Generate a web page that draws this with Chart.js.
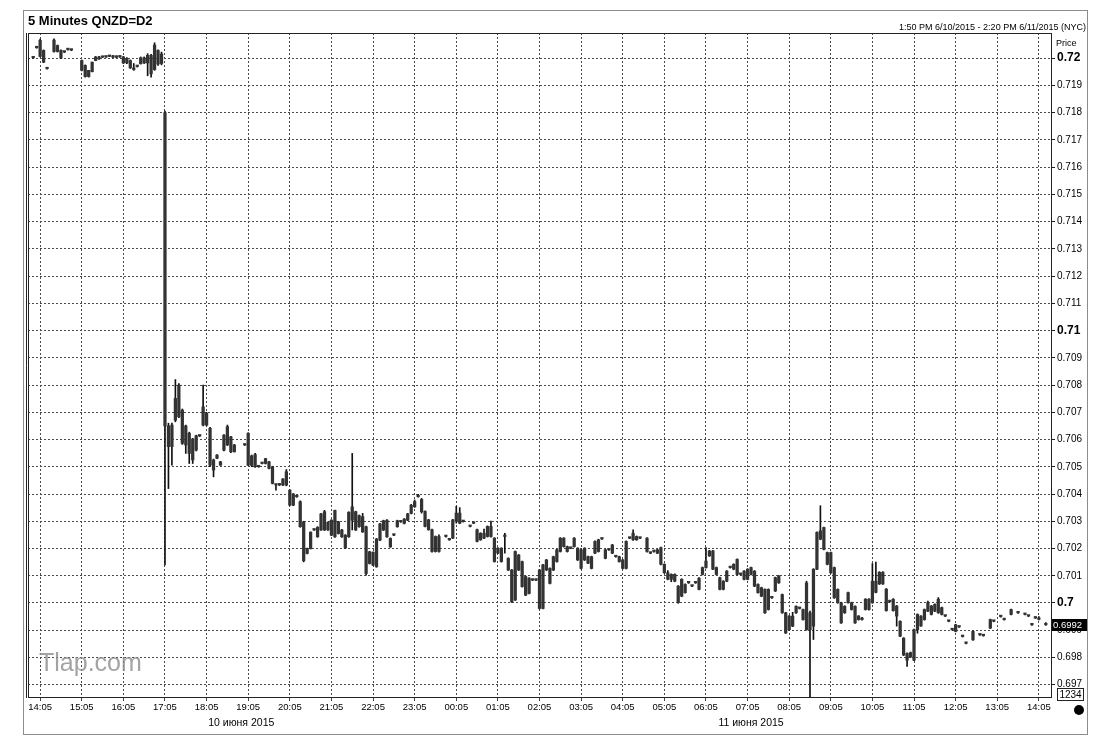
<!DOCTYPE html>
<html>
<head>
<meta charset="utf-8">
<title>5 Minutes QNZD=D2</title>
<script src="https://cdn.jsdelivr.net/npm/chart.js@4.4.1/dist/chart.umd.min.js"></script>
<style>
  html, body { margin: 0; padding: 0; background: #fff; }
</style>
</head>
<body>
<canvas id="myChart" width="1118" height="750"></canvas>
<script>
// 5-minute bars, 13:50 (10 June) .. 14:20 (11 June), 295 slots, null = no bar
const opens = [
  null, 0.72001, 0.72038, 0.72006, 0.72028, 0.71961, null, 0.72024, 0.72046, 0.72028, 0.72022, 0.72031,
  0.72029, null, null, 0.71991, 0.71973, 0.71932, 0.7195, 0.71991, 0.72004, 0.72003, 0.72004, 0.72006,
  0.72008, 0.72003, 0.72007, 0.72004, 0.71982, 0.71991, 0.71964, 0.71969, 0.71979, 0.72001, 0.71982, 0.7201,
  0.71958, 0.72028, 0.7198, 0.718, 0.7065, 0.70574, 0.70671, 0.708, 0.70708, 0.7058, 0.70623, 0.70525,
  0.70561, 0.70613, 0.70653, 0.70696, 0.70641, 0.70525, 0.70531, 0.70518, 0.70561, 0.70647, 0.70555, 0.7058,
  null, null, 0.7058, 0.70623, 0.70505, 0.70545, 0.705, 0.70512, 0.70512, 0.70518, 0.705, 0.70433,
  0.70433, 0.70433, 0.70433, 0.70414, 0.70359, 0.7039, 0.70372, 0.70298, 0.702, 0.702, 0.70268, 0.70243,
  0.70268, 0.70335, 0.70268, 0.70304, 0.70243, 0.70298, 0.70268, 0.70249, 0.70243, 0.70304, 0.70335, 0.7028,
  0.70317, 0.7028, 0.70188, 0.70139, 0.70133, 0.70231, 0.70268, 0.70304, 0.70237, 0.70249, 0.7028, 0.70298,
  0.70292, 0.70304, 0.70329, 0.70353, 0.7039, 0.7038, 0.70336, 0.70305, 0.70269, 0.70189, 0.70244, null,
  0.70244, 0.70232, 0.70238, 0.703, 0.7033, 0.70299, null, 0.70281, 0.70293, 0.70269, 0.70232, 0.70256,
  0.70244, 0.70281, 0.70238, 0.70183, 0.70201, 0.70244, 0.70164, 0.70121, 0.70011, 0.70176, 0.70152, 0.70097,
  0.70035, 0.70084, 0.70084, 0.70121, 0.6998, 0.70121, 0.70127, 0.70121, 0.70152, 0.70189, 0.70238, 0.70207,
  0.70201, 0.70207, 0.70201, 0.70195, 0.70158, 0.7017, 0.7017, 0.70183, 0.70189, 0.70235, 0.70195, 0.70195,
  0.70183, 0.7017, 0.7017, 0.70158, 0.70127, 0.70238, 0.70232, 0.70244, 0.70238, null, 0.70238, 0.70183,
  0.70189, 0.70183, 0.70203, 0.70142, 0.70111, 0.70087, 0.70105, 0.70062, 0.70025, 0.70068, 0.70074, 0.70062,
  0.70074, 0.7005, 0.70105, 0.7013, 0.70173, 0.70191, 0.7013, 0.70093, 0.7005, 0.7008, 0.7013, 0.70124,
  0.7016, 0.70105, 0.70087, 0.70124, 0.70105, 0.70117, 0.70068, 0.70056, 0.7005, 0.69976, 0.70019, 0.70044,
  0.70099, 0.70031, 0.69964, 0.69902, 0.69952, 0.69964, 0.6998, 0.69976, 0.69902, 0.69964, 0.69915, 0.70124,
  0.70234, 0.70277, 0.70185, 0.70185, 0.7013, 0.7005, 0.70001, 0.69988, 0.70038, 0.70001, 0.69988, 0.69952,
  0.69945, 0.69976, 0.70014, 0.70001, 0.7008, 0.7007, 0.70113, 0.70051, 0.70005, 0.70014, 0.69989, 0.69933,
  0.69871, 0.69815, 0.69802, 0.6979, 0.69902, 0.69952, 0.69939, 0.6997, 0.69989, 0.6997, 0.69964, 0.69983,
  0.69952, 0.69933, 0.69902, 0.6992, 0.69912, 0.69877, 0.69852, null, 0.69865, null, 0.69883, 0.6988,
  null, 0.69908, 0.69933, null, 0.6995, 0.69939, null, 0.69958, null, 0.69964, null, 0.69958,
  0.69952, 0.6992, 0.69945, 0.6994, null, 0.69925, null
];
const highs = [
  null, 0.72003, 0.7204, 0.7207, 0.7203, 0.71963, null, 0.72071, 0.72048, 0.7203, 0.72024, 0.72033,
  0.72033, null, null, 0.71993, 0.71975, 0.71955, 0.71985, 0.72006, 0.72006, 0.72005, 0.72006, 0.7201,
  0.7201, 0.72008, 0.72009, 0.72006, 0.72002, 0.71993, 0.7198, 0.71971, 0.72004, 0.72004, 0.72016, 0.72014,
  0.72056, 0.7203, 0.72022, 0.71805, 0.7066, 0.7066, 0.7082, 0.70805, 0.70712, 0.70653, 0.70627, 0.70604,
  0.70616, 0.70615, 0.708, 0.707, 0.70645, 0.70528, 0.70545, 0.7052, 0.70618, 0.70653, 0.70612, 0.70582,
  null, null, 0.70582, 0.70625, 0.70543, 0.70549, 0.70502, 0.70514, 0.70531, 0.7052, 0.70502, 0.70435,
  0.70439, 0.70457, 0.7049, 0.70416, 0.70402, 0.70392, 0.70375, 0.703, 0.70202, 0.70261, 0.7027, 0.7028,
  0.70329, 0.7034, 0.70298, 0.70306, 0.70341, 0.703, 0.7027, 0.70251, 0.70335, 0.70549, 0.70337, 0.70323,
  0.70329, 0.70282, 0.7019, 0.70188, 0.70237, 0.70292, 0.70304, 0.70306, 0.70239, 0.70251, 0.70304, 0.703,
  0.7031, 0.70329, 0.70362, 0.70378, 0.70399, 0.70384, 0.70338, 0.70307, 0.70271, 0.70246, 0.7025, null,
  0.70246, 0.70234, 0.70307, 0.70355, 0.7035, 0.70301, null, 0.70283, 0.70295, 0.70271, 0.70258, 0.70271,
  0.70283, 0.70301, 0.7024, 0.70203, 0.70203, 0.70256, 0.70166, 0.70123, 0.70191, 0.70178, 0.70154, 0.70099,
  0.70093, 0.70086, 0.70086, 0.70123, 0.70142, 0.7016, 0.70129, 0.70172, 0.70197, 0.7024, 0.7024, 0.70209,
  0.70203, 0.7024, 0.70203, 0.70197, 0.70203, 0.70172, 0.70172, 0.70228, 0.70234, 0.70237, 0.70197, 0.70197,
  0.70215, 0.70172, 0.70172, 0.7016, 0.70228, 0.7024, 0.70269, 0.70246, 0.7024, null, 0.7024, 0.70185,
  0.70191, 0.70197, 0.70205, 0.70144, 0.70119, 0.70107, 0.70107, 0.70064, 0.70089, 0.7007, 0.70076, 0.70064,
  0.70076, 0.70093, 0.70132, 0.70203, 0.70193, 0.70193, 0.70132, 0.70095, 0.70082, 0.70119, 0.70132, 0.70144,
  0.70162, 0.70107, 0.70119, 0.70126, 0.70132, 0.70119, 0.7007, 0.70058, 0.70052, 0.70052, 0.70021, 0.70095,
  0.70101, 0.70033, 0.69966, 0.69954, 0.69966, 0.6999, 0.69982, 0.69978, 0.7008, 0.6997, 0.70126, 0.70261,
  0.70357, 0.70279, 0.70187, 0.70187, 0.70132, 0.70052, 0.70003, 0.6999, 0.7004, 0.70003, 0.6999, 0.69954,
  0.69947, 0.70016, 0.70016, 0.70145, 0.7015, 0.70115, 0.70115, 0.70053, 0.70007, 0.70016, 0.69991, 0.69935,
  0.69873, 0.69817, 0.6982, 0.69904, 0.6996, 0.69954, 0.69978, 0.70007, 0.69991, 0.69997, 0.7002, 0.69985,
  0.69954, 0.69935, 0.69904, 0.69922, 0.69914, 0.69879, 0.69854, null, 0.69898, null, 0.69885, 0.69882,
  null, 0.69941, 0.69935, null, 0.69952, 0.69941, null, 0.69978, null, 0.69966, null, 0.6996,
  0.69954, 0.69922, 0.69947, 0.6995, null, 0.69928, null
];
const lows = [
  null, 0.71999, 0.72036, 0.72004, 0.71983, 0.71959, null, 0.72022, 0.72022, 0.71998, 0.7202, 0.72029,
  0.72027, null, null, 0.71953, 0.7193, 0.7193, 0.71949, 0.7199, 0.71995, 0.72002, 0.72002, 0.72005,
  0.72001, 0.72001, 0.72002, 0.7198, 0.71979, 0.71962, 0.71955, 0.71967, 0.71978, 0.7198, 0.71935, 0.7193,
  0.71955, 0.71973, 0.71975, 0.7014, 0.7042, 0.70506, 0.70665, 0.7068, 0.70582, 0.70549, 0.70512, 0.70512,
  0.70558, 0.70611, 0.7065, 0.7065, 0.705, 0.70463, 0.7053, 0.70505, 0.70558, 0.70578, 0.70552, 0.70554,
  null, null, 0.70578, 0.70504, 0.705, 0.70498, 0.70498, 0.7051, 0.7051, 0.70492, 0.70437, 0.70414,
  0.70431, 0.70431, 0.7043, 0.70357, 0.70357, 0.70388, 0.70278, 0.70151, 0.7018, 0.70198, 0.70266, 0.70241,
  0.70266, 0.70266, 0.70266, 0.70247, 0.70241, 0.70253, 0.70241, 0.702, 0.70241, 0.70268, 0.70266, 0.70278,
  0.70259, 0.70102, 0.70143, 0.70137, 0.70131, 0.70229, 0.70266, 0.70241, 0.70204, 0.70247, 0.70278, 0.70296,
  0.7029, 0.70302, 0.70327, 0.70351, 0.70388, 0.7033, 0.70279, 0.70267, 0.70187, 0.70187, 0.70187, null,
  0.70242, 0.7023, 0.70236, 0.70293, 0.70291, 0.70297, null, 0.70279, 0.70291, 0.70224, 0.7023, 0.70236,
  0.70242, 0.70242, 0.7015, 0.70181, 0.7015, 0.70183, 0.70119, 0.70002, 0.70009, 0.70119, 0.70058, 0.70027,
  0.70033, 0.70082, 0.70082, 0.69978, 0.69978, 0.70119, 0.7007, 0.70119, 0.7015, 0.70187, 0.70205, 0.70187,
  0.70199, 0.70205, 0.70156, 0.70125, 0.70156, 0.70144, 0.70125, 0.70181, 0.70187, 0.70233, 0.70162, 0.70193,
  0.70181, 0.70168, 0.7015, 0.70125, 0.70125, 0.70236, 0.7023, 0.7023, 0.70236, null, 0.70187, 0.70181,
  0.70187, 0.70181, 0.7014, 0.70109, 0.70085, 0.70078, 0.70078, 0.69999, 0.70023, 0.70036, 0.70072, 0.7006,
  0.70072, 0.70048, 0.70103, 0.70128, 0.70171, 0.70122, 0.70103, 0.70048, 0.70048, 0.70078, 0.70128, 0.70122,
  0.70103, 0.70103, 0.70085, 0.70085, 0.70103, 0.7006, 0.70036, 0.70023, 0.69962, 0.69974, 0.70017, 0.70042,
  0.70072, 0.69962, 0.69888, 0.699, 0.69913, 0.69962, 0.69978, 0.69937, 0.699, 0.69655, 0.69866, 0.70122,
  0.70232, 0.70195, 0.7014, 0.70109, 0.70017, 0.69999, 0.69925, 0.69962, 0.69999, 0.69974, 0.69925, 0.69937,
  0.69937, 0.69974, 0.69974, 0.69999, 0.70037, 0.70068, 0.70068, 0.6997, 0.70003, 0.6997, 0.69915, 0.69876,
  0.69807, 0.69767, 0.698, 0.69788, 0.69889, 0.69914, 0.69937, 0.69968, 0.69956, 0.69968, 0.69962, 0.69956,
  0.6995, 0.69931, 0.699, 0.69894, 0.6991, 0.69875, 0.6985, null, 0.69863, null, 0.69881, 0.69878,
  null, 0.69906, 0.69931, null, 0.69948, 0.69937, null, 0.69956, null, 0.69962, null, 0.69956,
  0.6995, 0.69918, 0.69943, 0.69938, null, 0.69918, null
];
const closes = [
  null, 0.72001, 0.72038, 0.72065, 0.71985, 0.71961, null, 0.72066, 0.72024, 0.72, 0.72022, 0.72031,
  0.72031, null, null, 0.71955, 0.71932, 0.71955, 0.71985, 0.72004, 0.71997, 0.72004, 0.72004, 0.72008,
  0.72003, 0.72007, 0.72004, 0.71982, 0.71998, 0.71964, 0.71958, 0.71969, 0.72001, 0.71982, 0.7201, 0.71942,
  0.72048, 0.71978, 0.72015, 0.7065, 0.70574, 0.70653, 0.70751, 0.70683, 0.70586, 0.7065, 0.70549, 0.70602,
  0.70614, 0.70613, 0.7072, 0.70653, 0.70506, 0.70488, 0.70543, 0.70506, 0.70616, 0.7058, 0.7061, 0.70555,
  null, null, 0.7058, 0.70506, 0.7054, 0.705, 0.705, 0.70512, 0.7053, 0.70494, 0.70439, 0.70433,
  0.70438, 0.70455, 0.70482, 0.70359, 0.704, 0.7039, 0.7028, 0.70155, 0.70182, 0.7026, 0.70268, 0.70278,
  0.70327, 0.70268, 0.70296, 0.70249, 0.7034, 0.70255, 0.70243, 0.70202, 0.70333, 0.70353, 0.70268, 0.70321,
  0.70261, 0.70108, 0.70145, 0.70186, 0.70235, 0.7029, 0.70302, 0.70243, 0.70206, 0.70249, 0.70302, 0.70298,
  0.70308, 0.70327, 0.70359, 0.70372, 0.70395, 0.70335, 0.70281, 0.70269, 0.70189, 0.70244, 0.70189, null,
  0.70244, 0.70232, 0.70305, 0.7033, 0.70293, 0.70299, null, 0.70281, 0.70293, 0.70226, 0.70256, 0.70238,
  0.70281, 0.70244, 0.70152, 0.70201, 0.70152, 0.70244, 0.70121, 0.70004, 0.70189, 0.70121, 0.7006, 0.70029,
  0.70091, 0.70084, 0.70084, 0.6998, 0.7014, 0.70158, 0.70072, 0.7017, 0.70195, 0.70238, 0.70207, 0.70189,
  0.70201, 0.70238, 0.70158, 0.70127, 0.70201, 0.70146, 0.70127, 0.70226, 0.70232, 0.70235, 0.70164, 0.70195,
  0.70213, 0.7017, 0.70152, 0.70127, 0.70226, 0.70238, 0.70256, 0.70232, 0.70238, null, 0.70189, 0.70183,
  0.70189, 0.70195, 0.70142, 0.70111, 0.70087, 0.70105, 0.7008, 0.70001, 0.70087, 0.70038, 0.70074, 0.70062,
  0.70074, 0.70091, 0.7013, 0.70154, 0.70191, 0.70124, 0.70105, 0.7005, 0.7008, 0.70117, 0.7013, 0.70142,
  0.70105, 0.70105, 0.70117, 0.70087, 0.7013, 0.70062, 0.70038, 0.70025, 0.69964, 0.7005, 0.70019, 0.70093,
  0.70074, 0.69964, 0.6989, 0.69952, 0.69915, 0.69988, 0.6998, 0.69939, 0.70074, 0.69902, 0.70124, 0.70259,
  0.70265, 0.70197, 0.70142, 0.70111, 0.70019, 0.70001, 0.69927, 0.69964, 0.70001, 0.69976, 0.69927, 0.69939,
  0.69939, 0.70014, 0.69976, 0.7008, 0.70039, 0.70113, 0.7007, 0.69972, 0.70005, 0.69972, 0.69952, 0.69878,
  0.69809, 0.6979, 0.69818, 0.69902, 0.69958, 0.69916, 0.69976, 0.70001, 0.69958, 0.69995, 0.70014, 0.69958,
  0.69952, 0.69933, 0.69902, 0.69896, 0.69912, 0.69877, 0.69852, null, 0.69896, null, 0.69883, 0.6988,
  null, 0.69939, 0.69933, null, 0.6995, 0.69939, null, 0.69976, null, 0.69964, null, 0.69958,
  0.69952, 0.6992, 0.69945, 0.6994, null, 0.6992, null
];

const dateLabels = [
  { text: "10 июня 2015", at: "18:55" },
  { text: "11 июня 2015", at: "07:10" }
];
const yMin = 0.69655
const yMax = 0.72092
const FONT = '"Liberation Sans", Arial, sans-serif'

// time labels, one per 5-minute slot
const times = []
for (let i = 0; i < opens.length; i++) {
  const m = 13 * 60 + 50 + i * 5
  const hh = String(Math.floor(m / 60) % 24).padStart(2, "0")
  const mm = String(m % 60).padStart(2, "0")
  times.push(hh + ":" + mm)
}
const isHour = (t) => !!t && t.endsWith(":05")

const wicks = lows.map((l, i) => l === null ? null : [l, highs[i]])
const bodies = opens.map((o, i) => o === null ? null : [o, closes[i]])

let lastPrice = null
closes.forEach((c) => { if (c !== null) lastPrice = c })

const decor = {
  id: "decor",
  beforeDraw(chart) {
    const ctx = chart.ctx
    ctx.save()
    ctx.fillStyle = "#fff"
    ctx.fillRect(0, 0, chart.width, chart.height)
    ctx.restore()
  },
  afterDraw(chart) {
    const { ctx, chartArea: a, scales } = chart
    ctx.save()
    // outer frame
    ctx.strokeStyle = "#8c8c8c"
    ctx.lineWidth = 1
    ctx.strokeRect(23.5, 10.5, 1064, 724)
    // plot frame
    ctx.strokeStyle = "#222"
    ctx.strokeRect(a.left + 0.5, a.top + 0.5, a.right - a.left, a.bottom - a.top)
    ctx.beginPath()
    ctx.moveTo(a.left - 1.5, a.top)
    ctx.lineTo(a.left - 1.5, a.bottom + 1)
    ctx.stroke()

    ctx.fillStyle = "#000"
    ctx.textBaseline = "middle"
    ctx.textAlign = "left"
    ctx.font = "bold 13px " + FONT
    ctx.fillText("5 Minutes QNZD=D2", 28, 21)
    ctx.font = "9px " + FONT
    ctx.textAlign = "right"
    ctx.fillText("1:50 PM 6/10/2015 - 2:20 PM 6/11/2015 (NYC)", 1086, 28)
    ctx.textAlign = "left"
    ctx.fillText("Price", 1056, 44)

    // last price box
    const yy = Math.round(scales.y.getPixelForValue(lastPrice))
    ctx.fillStyle = "#000"
    ctx.fillRect(a.right + 1, yy - 6, 35, 12)
    ctx.fillStyle = "#fff"
    ctx.font = "9.5px " + FONT
    ctx.fillText(lastPrice.toFixed(4), a.right + 2, yy + 0.5)

    // volume box and dot
    ctx.fillStyle = "#fff"
    ctx.fillRect(1057.5, 688.5, 26, 12)
    ctx.strokeStyle = "#222"
    ctx.strokeRect(1057.5, 688.5, 26, 12)
    ctx.fillStyle = "#000"
    ctx.textAlign = "center"
    ctx.font = "10px " + FONT
    ctx.fillText("1234", 1070.5, 695)
    ctx.beginPath()
    ctx.arc(1079, 710, 5, 0, Math.PI * 2)
    ctx.fill()

    // day labels
    ctx.font = "10.5px " + FONT
    dateLabels.forEach((d) => {
      const px = scales.x.getPixelForValue(times.indexOf(d.at))
      ctx.fillText(d.text, px, 723)
    })

    // watermark
    ctx.textAlign = "left"
    ctx.font = "25px " + FONT
    ctx.fillStyle = "rgba(140,140,140,0.8)"
    ctx.fillText("Tlap.com", 39, 664)
    ctx.restore()
  }
}

const ctx = document.getElementById("myChart")
new Chart(ctx, {
  type: "bar",
  data: {
    labels: times,
    datasets: [
      { label: "range", data: wicks, backgroundColor: "#111", barThickness: 1, grouped: false, order: 2 },
      { label: "body", data: bodies, backgroundColor: "#333", barThickness: 2.6, minBarLength: 1.5, grouped: false, order: 1 }
    ]
  },
  options: {
    responsive: false,
    animation: false,
    layout: { padding: { left: 28, top: 33, right: 31, bottom: 33 } },
    plugins: { legend: { display: false }, tooltip: { enabled: false } },
    scales: {
      x: {
        type: "category",
        offset: true,
        grid: {
          offset: false,
          lineWidth: 1,
          color: (c) => isHour(times[c.index]) ? "#4a4a4a" : "rgba(0,0,0,0)",
          tickColor: (c) => isHour(times[c.index]) ? "#444" : "rgba(0,0,0,0)",
          tickLength: 4
        },
        border: { display: false, dash: [2, 2] },
        ticks: {
          autoSkip: false,
          maxRotation: 0,
          minRotation: 0,
          padding: 1,
          color: "#000",
          font: { family: FONT, size: 9.5 },
          callback: (v, i) => isHour(times[i]) ? times[i] : ""
        },
        afterFit: (s) => { s.height = 20 }
      },
      y: {
        position: "right",
        min: yMin,
        max: yMax,
        grid: { color: "#4a4a4a", lineWidth: 1, tickLength: 4, tickColor: "#222" },
        border: { display: false, dash: [2, 2] },
        ticks: {
          stepSize: 0.001,
          includeBounds: false,
          padding: 2,
          color: "#000",
          font: (c) => {
            const v = c.tick ? c.tick.value * 100 : 0
            return Math.abs(v - Math.round(v)) < 1e-6
              ? { family: FONT, size: 12, weight: "bold" }
              : { family: FONT, size: 10 }
          },
          callback: (v) => String(Number(v.toFixed(3)))
        },
        afterFit: (s) => { s.width = 36 }
      }
    }
  },
  plugins: [decor]
})
</script>
</body>
</html>
